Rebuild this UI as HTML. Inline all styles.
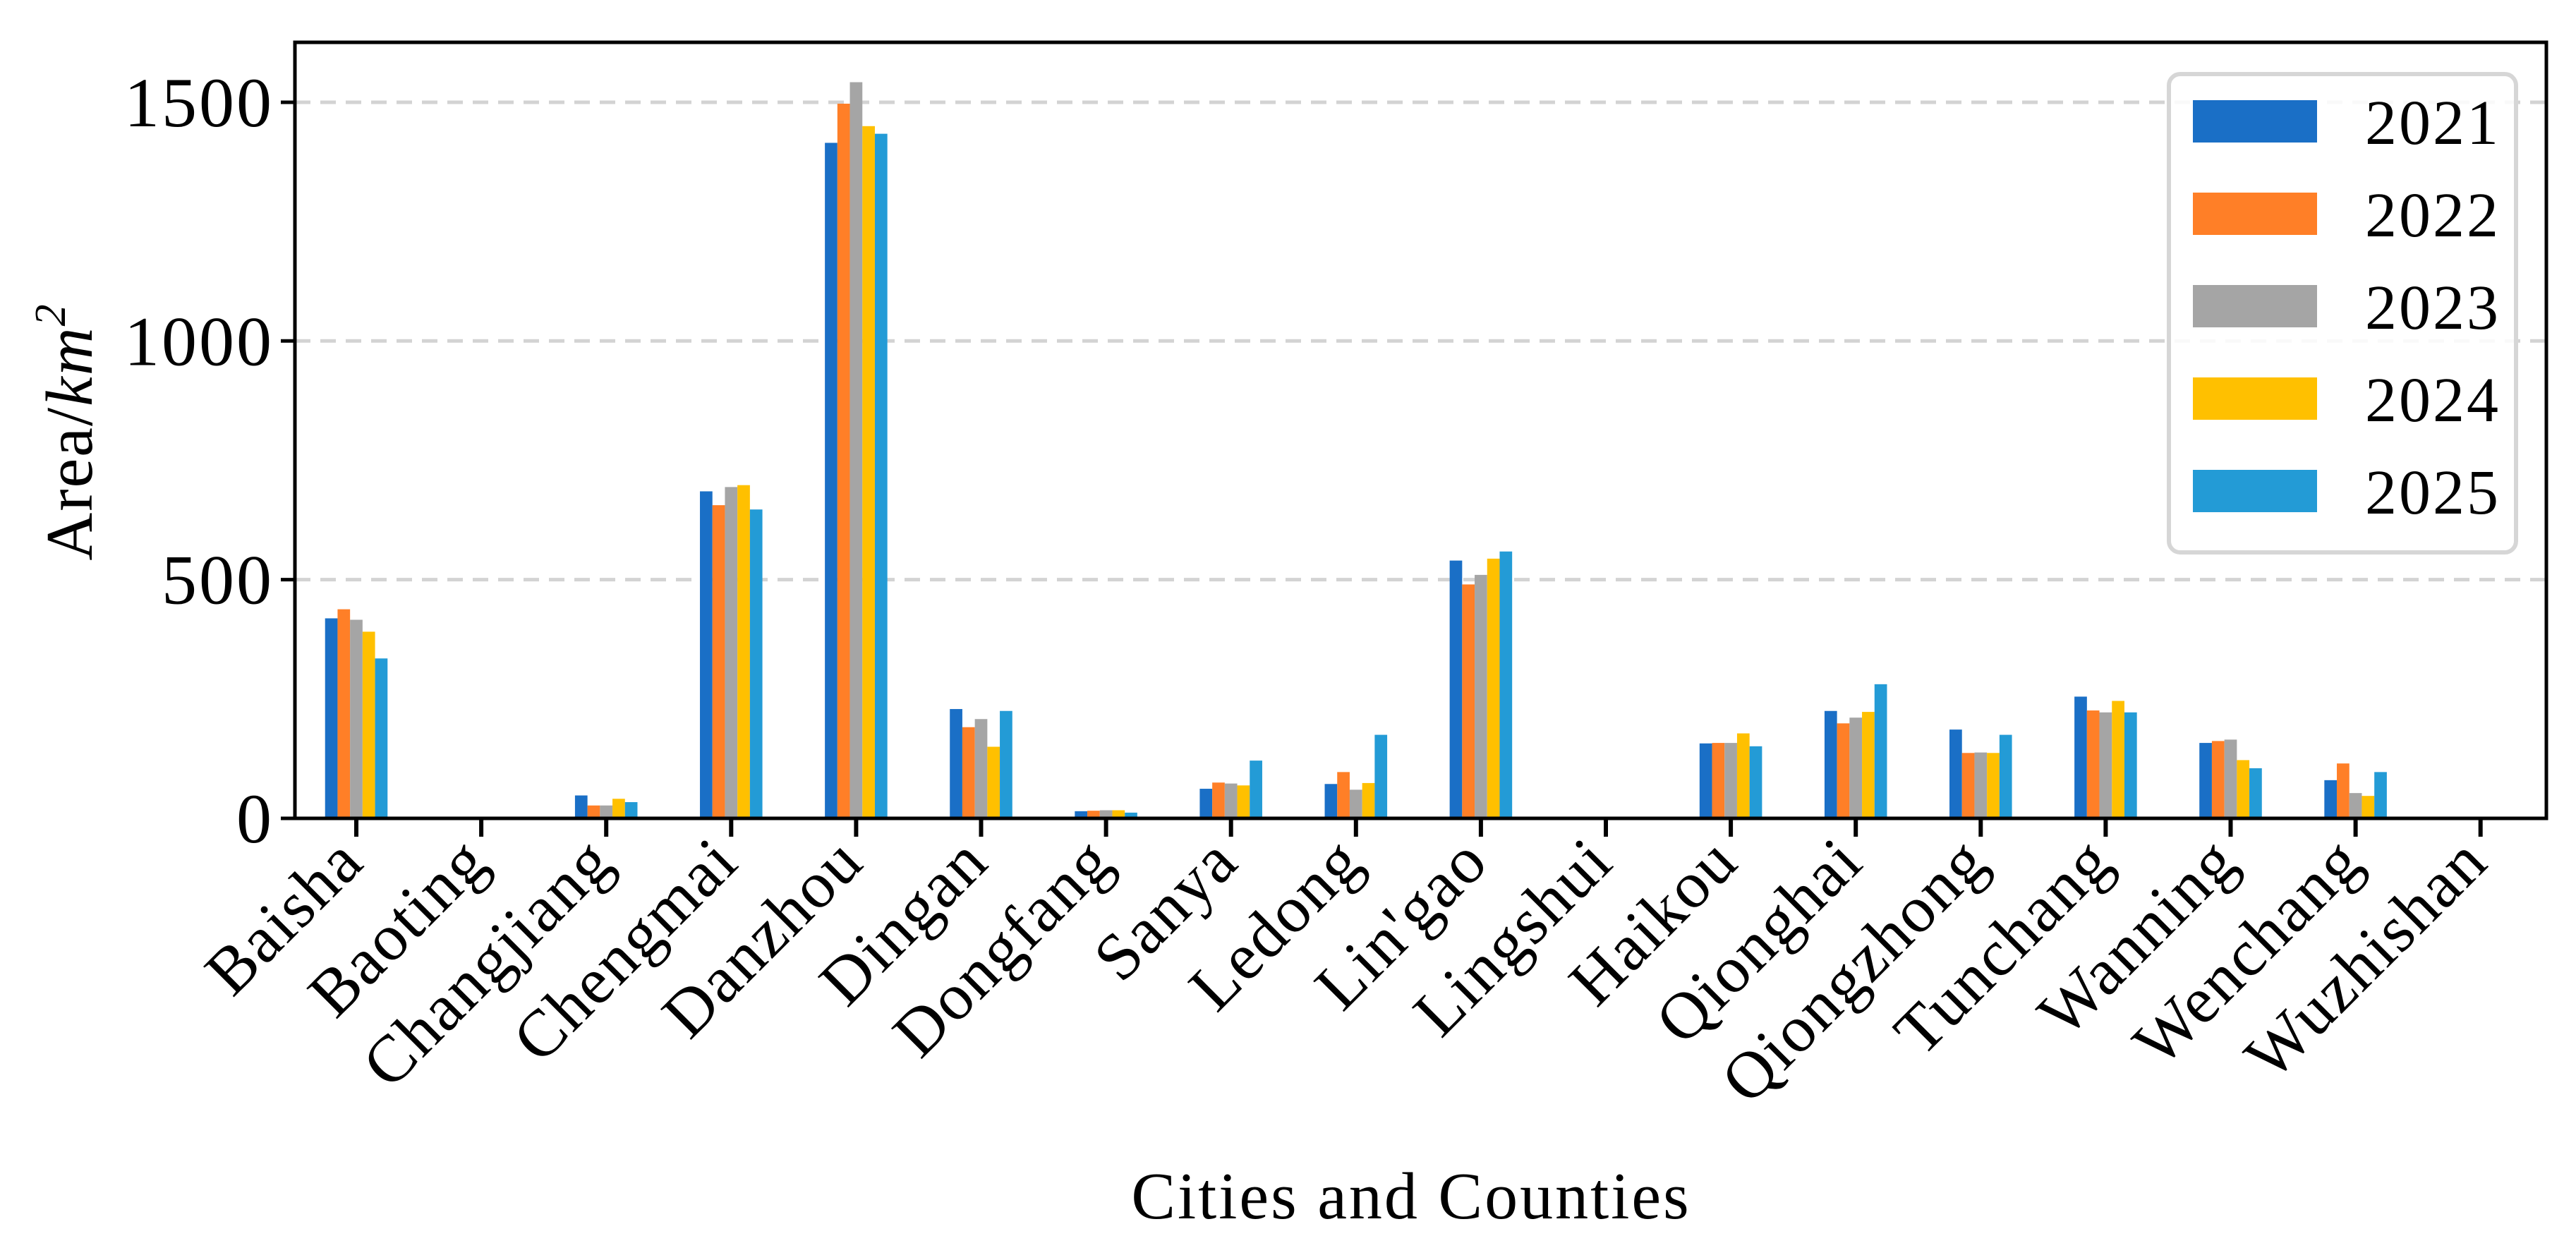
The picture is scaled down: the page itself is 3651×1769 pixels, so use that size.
<!DOCTYPE html>
<html><head><meta charset="utf-8"><style>
html,body{margin:0;padding:0;background:#fff;}
svg{display:block;font-family:"Liberation Serif",serif;}
</style></head><body>
<svg id="chart" width="3651" height="1769" viewBox="0 0 3651 1769" xmlns="http://www.w3.org/2000/svg">
<rect width="3651" height="1769" fill="#fff"/>
<g id="grid"></g>
<g id="bars"></g>
<g id="axes"></g>
<g id="legend"></g>
<text x="2000" y="1727" font-size="94" letter-spacing="3" text-anchor="middle">Cities and Counties</text>
<text transform="translate(130,612) rotate(-90)" font-size="94" letter-spacing="2" text-anchor="middle">Area/<tspan font-style="italic">km</tspan><tspan font-size="62" dy="-38" font-style="italic">2</tspan></text>
</svg>
<script>
const categories = ["Baisha","Baoting","Changjiang","Chengmai","Danzhou","Dingan","Dongfang","Sanya","Ledong","Lin'gao","Lingshui","Haikou","Qionghai","Qiongzhong","Tunchang","Wanning","Wenchang","Wuzhishan"];
const seriesNames = ["2021","2022","2023","2024","2025"];
const v2021 = [419,0,48,685,1415,229,15,62,72,540,0,157,225,186,255,158,80,0];
const v2022 = [438,0,27,656,1497,191,16,75,97,490,0,158,199,137,226,162,115,0];
const v2023 = [416,0,27,694,1542,208,17,73,60,510,0,158,211,138,222,165,53,0];
const v2024 = [391,0,41,698,1450,150,17,69,74,544,0,178,223,137,246,122,47,0];
const v2025 = [335,0,34,647,1434,225,12,121,175,559,0,151,281,175,222,105,97,0];
const yTicks = [0,500,1000,1500];
const series = [v2021,v2022,v2023,v2024,v2025];
const colors = ["#1a6fc6","#ff7f27","#a5a5a5","#ffc000","#239bd6"];

const NS="http://www.w3.org/2000/svg";
const L=418,R=3609,T=60,B=1160;
const x0=505,step=177.1;
const xPos=i=>x0+i*step;
const yPos=v=>B-v*0.6767;
const bw=step*0.1;
function mk(tag,attrs,parent){const e=document.createElementNS(NS,tag);for(const k in attrs)e.setAttribute(k,attrs[k]);parent.appendChild(e);return e;}
const grid=document.getElementById('grid'),bars=document.getElementById('bars'),axes=document.getElementById('axes'),leg=document.getElementById('legend');

yTicks.forEach(t=>{
  if(t>0){const g=mk('line',{x1:L,x2:R,y1:yPos(t),y2:yPos(t),stroke:'#d3d3d3','stroke-width':5,'stroke-dasharray':'22 14'},grid);
  
  }
  const tk=mk('line',{x1:L-20,x2:L,y1:yPos(t),y2:yPos(t),stroke:'#000','stroke-width':5},axes);
  
  
  const lb=mk('text',{x:L-30,y:yPos(t)+34,'font-size':100,'letter-spacing':3,'text-anchor':'end'},axes);
  lb.textContent=t;
  
  
});

series.forEach((s,si)=>{
  s.forEach((v,i)=>{
    const x=xPos(i)+(si-2.5)*bw;
    const r=mk('rect',{x:x,y:yPos(v),width:bw,height:B-yPos(v),fill:colors[si]},bars);
    
    
  });
});

categories.forEach((c,i)=>{
  const tk=mk('line',{x1:xPos(i),x2:xPos(i),y1:B,y2:B+26,stroke:'#000','stroke-width':6},axes);
  
  
  const lb=mk('text',{transform:`translate(${xPos(i)+14},${B+66}) rotate(-45)`,'font-size':94,'letter-spacing':2,'text-anchor':'end'},axes);
  lb.textContent=c;
  
  
});

const fr=mk('rect',{x:L,y:T,width:R-L,height:B-T,fill:'none',stroke:'#000','stroke-width':5},axes);



const lbox=mk('rect',{x:3074,y:105,width:492,height:678,rx:16,fill:'#fff','fill-opacity':0.85,stroke:'#d6d6d6','stroke-width':6},leg);


seriesNames.forEach((n,si)=>{
  const cy=172+si*131;
  const p=mk('rect',{x:3108,y:cy-30,width:176,height:60,fill:colors[si]},leg);
  
  
  const t=mk('text',{x:3352,y:cy+32,'font-size':90,'letter-spacing':3},leg);
  t.textContent=n;
  
  
});
</script>
</body></html>
